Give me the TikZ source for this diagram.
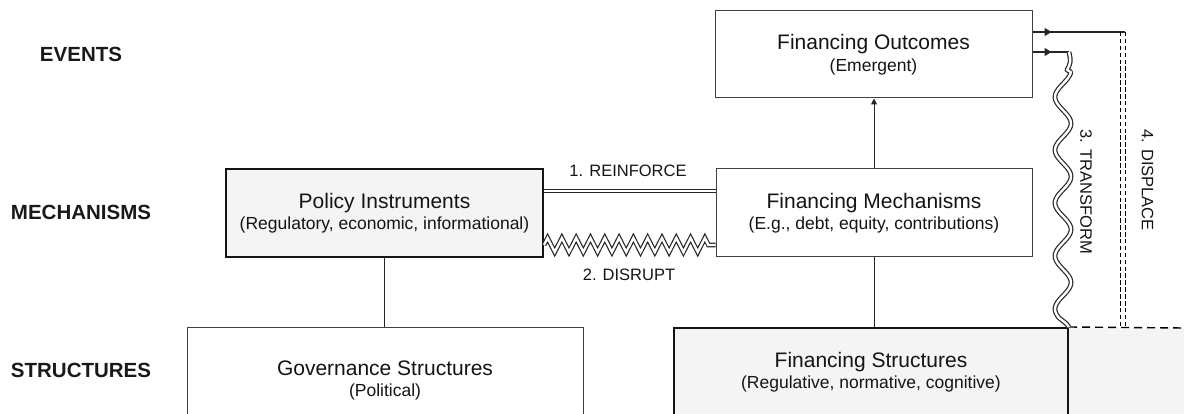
\documentclass[tikz,border=0pt]{standalone}
\usepackage{fontspec}
\setmainfont{Liberation Sans}
\usetikzlibrary{decorations.pathmorphing,decorations.markings,arrows.meta}
\definecolor{boxgray}{HTML}{F4F4F4}
\definecolor{linec}{HTML}{262626}
\newcommand\boxmainfont{\fontsize{21}{21.5}\selectfont}
\newcommand\boxsubfont{\fontsize{17.5}{21.5}\selectfont}
\begin{document}
\begin{tikzpicture}[x=1pt,y=-1pt,
  box/.style={draw=black!75, line width=1pt, fill=white, inner sep=0pt, align=center, font=\boxmainfont, text=black!92},
  boxthick/.style={box, draw=black!92, line width=2pt, fill=boxgray},
  lvl/.style={font=\fontsize{20.5}{24}\selectfont\bfseries, text=black!90},
  conn/.style={draw=linec, line width=1.2pt},
  dbl/.style={conn, double, double distance=2.4pt},
  lab/.style={font=\fontsize{16.5}{18}\selectfont, text=black!92},
  dsh/.style={draw=black, line width=1.6pt, dash pattern=on 4.5pt off 2.4pt},
  midarrow/.style={postaction={decorate,decoration={markings,mark=at position #1 with {\arrow[linec]{Triangle[length=7pt,width=8pt]}}}}}
]
\useasboundingbox (0,0) rectangle (1184,414);
\clip (0,0) rectangle (1184,414);

% level labels
\node[lvl] (ev) at (81,54) {EVENTS};
\node[lvl] (me) at (81,212.5) {MECHANISMS};
\node[lvl] (st) at (81,370) {STRUCTURES};

% gray area right of financing structures
\fill[boxgray] (1068,328) rectangle (1184,414);

% boxes
\node[box, minimum width=317pt, minimum height=87pt] (fo) at (873.5,54.5)
  {Financing Outcomes\\{\boxsubfont (Emergent)}};
\node[box, minimum width=316pt, minimum height=88pt] (fm) at (874,213)
  {Financing Mechanisms\\{\boxsubfont (E.g., debt, equity, contributions)}};
\node[boxthick, minimum width=317pt, minimum height=88pt] (pi) at (384.5,213)
  {Policy Instruments\\{\boxsubfont (Regulatory, economic, informational)}};
\node[box, minimum width=396pt, minimum height=107pt] (gs) at (385,380.5)
  {Governance Structures\\{\boxsubfont (Political)}};
\node[boxthick, minimum width=394pt, minimum height=88pt] (fs) at (871,372)
  {Financing Structures\\{\boxsubfont (Regulative, normative, cognitive)}};

% vertical connectors
\draw[conn, line width=1pt] (pi.south) -- (pi.south |- gs.north);
\draw[conn, line width=1pt] (fm.south) -- (fm.south |- fs.north);
\draw[conn, line width=1pt, -{Triangle[length=6pt,width=6pt]}] (fm.north) -- (fm.north |- fo.south);

% 1. reinforce
\draw[dbl] ([yshift=22pt]pi.east) -- ([yshift=22pt]pi.east -| fm.west);
\node[lab] (reinf) at (628,171) {1. REINFORCE};

% 2. disrupt
\draw[dbl, decorate, decoration={zigzag, amplitude=7pt, segment length=14.3pt}]
  ([yshift=-32pt]pi.east) -- ([yshift=-32pt]pi.east -| fm.west);
\node[lab] (disr) at (629,275) {2. DISRUPT};

% dashed boundary
\coordinate (edge) at (1184,328);
\draw[black, line width=1.4pt, dash pattern=on 8pt off 5pt] (fs.north east) -- (edge);

% 3. transform
\coordinate (w1) at (1069,52);
\draw[conn, midarrow=19pt] ([yshift=2.5pt]fo.east) -- (w1);
\draw[dbl, line join=round]
  (w1) .. controls (1071,62) .. (1067,70)
  -- plot[domain=72:318, samples=140, smooth] ({1063-8*cos(6.79245*(\x-97))}, \x)
  .. controls (1067,324) .. (fs.north east);
\node[lab, rotate=-90] (trans) at (1086,192) {3. TRANSFORM};

% 4. displace
\coordinate (d1) at (1123,32);
\coordinate (d2) at (1123,328);
\draw[conn, midarrow=19pt] ([yshift=22.5pt]fo.east) -- ([xshift=2pt]d1);
\draw[dsh] ([xshift=-2.5pt]d1) -- ([xshift=-2.5pt]d2);
\draw[dsh] ([xshift=2.5pt]d1) -- ([xshift=2.5pt]d2);
\node[lab, rotate=-90] (disp) at (1147.5,180) {4. DISPLACE};
\end{tikzpicture}
\end{document}
